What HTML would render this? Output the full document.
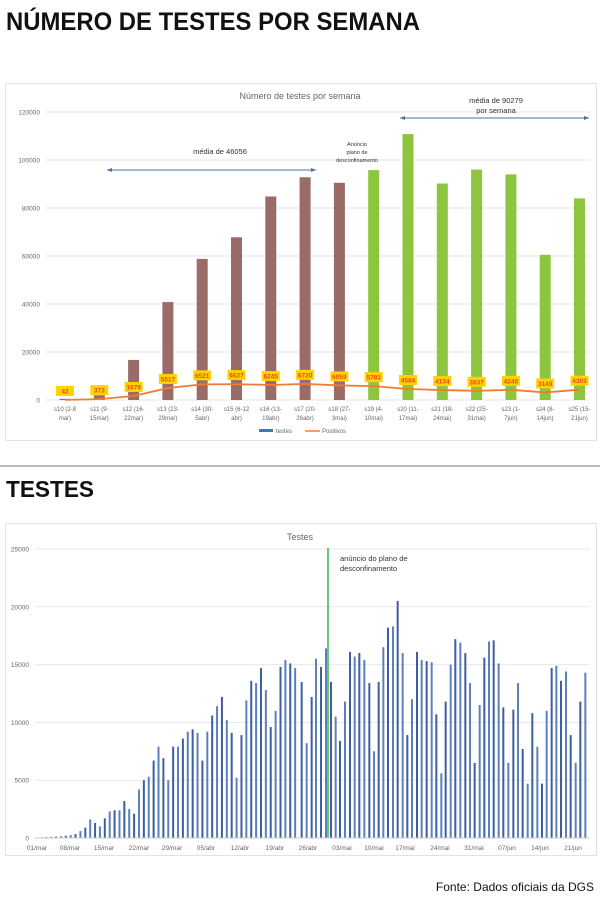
<!DOCTYPE html>
<html><head><meta charset="utf-8"><style>body{margin:0;background:#fff}svg{display:block}</style></head>
<body>
<svg id="s" width="600" height="897" xmlns="http://www.w3.org/2000/svg" font-family="Liberation Sans, sans-serif">
<text x="6" y="30" font-size="25" font-weight="bold" fill="#111" textLength="414" lengthAdjust="spacingAndGlyphs">NÚMERO DE TESTES POR SEMANA</text>
<rect x="5.5" y="83.5" width="591" height="357" fill="#fff" stroke="#e2e2e2"/>
<text x="300" y="99" font-size="9" fill="#666" text-anchor="middle">Número de testes por semana</text>
<g id="topg"></g>
<line x1="0" y1="466" x2="600" y2="466" stroke="#bbb" stroke-width="2"/>
<text x="6" y="497" font-size="23" font-weight="bold" fill="#111" textLength="88" lengthAdjust="spacingAndGlyphs">TESTES</text>
<rect x="5.5" y="523.5" width="591" height="332" fill="#fff" stroke="#e2e2e2"/>
<text x="300" y="540" font-size="9" fill="#666" text-anchor="middle">Testes</text>
<g id="botg"></g>
<text x="594" y="891" font-size="12" fill="#111" text-anchor="end">Fonte: Dados oficiais da DGS</text>
</svg>
<script>
(function(){
const NS="http://www.w3.org/2000/svg";
function el(p,t,a,txt){const e=document.createElementNS(NS,t);for(const k in a)e.setAttribute(k,a[k]);if(txt!=null)e.textContent=txt;p.appendChild(e);return e;}
const tg=document.getElementById('topg'),bg=document.getElementById('botg');
const Y0=400,sc=288/120000;
for(let v=0;v<=120000;v+=20000){const y=Y0-v*sc;el(tg,'line',{x1:45,x2:590,y1:y,y2:y,stroke:'#e6e6e6','stroke-width':1});el(tg,'text',{x:40,y:y+2.5,'font-size':6.5,fill:'#666','text-anchor':'end'},v);}
const tv=[500,2000,16700,40800,58800,67800,84800,92800,90500,95800,110800,90200,96000,94000,60500,84000];
const pv=[42,373,1679,5017,6521,6627,6245,6720,6059,5783,4584,4134,3837,4248,3149,4303];
const xl=[["s10 (2-8","mar)"],["s11 (9-","15mar)"],["s12 (16-","22mar)"],["s13 (23-","29mar)"],["s14 (30-","5abr)"],["s15 (6-12","abr)"],["s16 (13-","19abr)"],["s17 (20-","26abr)"],["s18 (27-","3mai)"],["s19 (4-","10mai)"],["s20 (11-","17mai)"],["s21 (18-","24mai)"],["s22 (25-","31mai)"],["s23 (1-","7jun)"],["s24 (8-","14jun)"],["s25 (15-","21jun)"]];
let pts=[];
tv.forEach((v,i)=>{const x=65+i*34.3;el(tg,'rect',{x:x-5.5,y:Y0-v*sc,width:11,height:v*sc,fill:i<9?'#9b6b68':'#8dc53e'});
el(tg,'text',{x:x,y:411,'font-size':6,fill:'#666','text-anchor':'middle'},xl[i][0]);el(tg,'text',{x:x,y:420,'font-size':6,fill:'#666','text-anchor':'middle'},xl[i][1]);
pts.push(x+','+(Y0-pv[i]*sc));});
el(tg,'polyline',{points:pts.join(' '),fill:'none',stroke:'#ee7d31','stroke-width':1.8});
pv.forEach((v,i)=>{const x=65+i*34.3,y=Y0-v*sc-9;el(tg,'rect',{x:x-9,y:y-5,width:18,height:10,fill:'#ffd200'});el(tg,'text',{x:x,y:y+2.5,'font-size':6.5,'font-weight':'bold',fill:'#e8481e','text-anchor':'middle'},v);});
el(tg,'rect',{x:259,y:429,width:14,height:3,fill:'#4472c4'});el(tg,'text',{x:276,y:433,'font-size':6,fill:'#666'},'testes');
el(tg,'line',{x1:305,x2:320,y1:431,y2:431,stroke:'#ee7d31','stroke-width':1.5});el(tg,'text',{x:322,y:433,'font-size':6,fill:'#666'},'Positivos');
function arrow(x1,x2,y){el(tg,'line',{x1:x1,x2:x2,y1:y,y2:y,stroke:'#4a6fa5','stroke-width':1});el(tg,'path',{d:`M${x1} ${y}l5 -2v4z M${x2} ${y}l-5 -2v4z`,fill:'#4a6fa5'});}
arrow(107,316,170);arrow(400,589,118);
el(tg,'text',{x:220,y:154,'font-size':7.5,fill:'#333','text-anchor':'middle'},'média de 46056');
el(tg,'text',{x:496,y:103,'font-size':7.5,fill:'#333','text-anchor':'middle'},'média de 90279');
el(tg,'text',{x:496,y:113,'font-size':7.5,fill:'#333','text-anchor':'middle'},'por semana');
[['Anúncio',146],['plano de',154],['desconfinamento',162]].forEach(a=>el(tg,'text',{x:357,y:a[1],'font-size':5.5,fill:'#333','text-anchor':'middle'},a[0]));
const B0=838,bs=289/25000;
for(let v=0;v<=25000;v+=5000){const y=B0-v*bs;el(bg,'line',{x1:35,x2:590,y1:y,y2:y,stroke:'#e8e8e8'});el(bg,'text',{x:29,y:y+2.5,'font-size':6.5,fill:'#666','text-anchor':'end'},v);}
const L=[50,60,80,100,120,150,200,250,350,600,900,1600,1300,1000,1700,2300,2400,2400,3200,2500,2100,4200,5000,5300,6700,7900,6900,5000,7900,7900,8600,9200,9400,9100,6700,9200,10600,11400,12200,10200,9100,5200,8900,11900,13600,13400,14700,12800,9600,11000,14800,15400,15100,14700];
L.forEach((v,i)=>{const x=36.5+i*4.88;el(bg,'rect',{x:x-1,y:B0-v*bs,width:2,height:v*bs,fill:i%2?'#5b7fbf':'#3d5fa0'});});
const R=[[5,13500],[20,8200],[35,12200],[48,15500],[63,14800],[78,16400],[93,13500],[107,10500],[120,8400],[135,11800],[150,16100],[164,15700],[178,16000],[193,15400],[208,13400],[222,7500],[236,13500],[250,16500],[264,18200],[279,18300],[293,20500],[308,16000],[322,8900],[336,12000],[351,16100],[365,15400],[380,15300],[395,15200],[409,10700],[424,5600],[437,11800],[452,15000],[466,17200],[481,16900],[496,16000],[510,13400],[524,6500],[539,11500],[553,15600],[567,17000],[581,17100],[596,15100],[610,11300],[625,6500],[640,11100],[654,13400],[668,7700],[683,4700],[697,10800],[712,7900],[726,4700],[740,11000],[755,14700],[769,14900],[783,13600],[798,14400],[812,8900],[827,6500],[841,11800],[856,14300]];
R.forEach((p,i)=>{const x=300+p[0]/3,v=p[1];el(bg,'rect',{x:x-1,y:B0-v*bs,width:2,height:v*bs,fill:i%2?'#5b7fbf':'#3d5fa0'});});
el(bg,'line',{x1:328,x2:328,y1:548,y2:838,stroke:'#3cb44b','stroke-width':1.5});
el(bg,'text',{x:340,y:561,'font-size':7.5,fill:'#333'},'anúncio do plano de');
el(bg,'text',{x:340,y:571,'font-size':7.5,fill:'#333'},'desconfinamento');
el(bg,'line',{x1:35,x2:590,y1:B0,y2:B0,stroke:'#ccc'});
[['01/mar',37],['08/mar',70],['15/mar',104],['22/mar',139],['29/mar',172],['05/abr',206],['12/abr',240],['19/abr',275],['26/abr',308],['03/mai',342],['10/mai',374],['17/mai',405],['24/mai',440],['31/mai',474],['07/jun',507],['14/jun',540],['21/jun',573]].forEach(a=>el(bg,'text',{x:a[1],y:850,'font-size':6.5,fill:'#666','text-anchor':'middle'},a[0]));
})();
</script>
</body></html>
